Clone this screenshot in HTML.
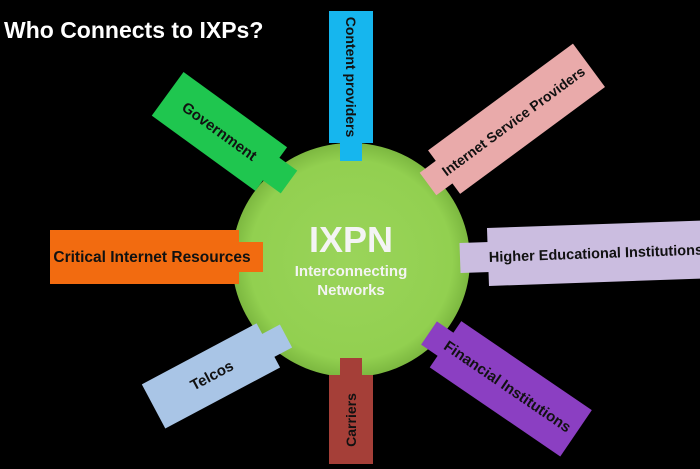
<!DOCTYPE html>
<html><head><style>
body{margin:0;background:#000;width:700px;height:464px;overflow:hidden}
svg text{font-family:"Liberation Sans",sans-serif;font-weight:bold}
</style></head><body>
<svg width="700" height="464" viewBox="0 0 700 464">
<defs>
<radialGradient id="cg" cx="50%" cy="50%" r="50%">
<stop offset="0" stop-color="#9ad45a"/><stop offset="0.85" stop-color="#92d050"/><stop offset="1" stop-color="#7cb840"/>
</radialGradient>
</defs>
<text x="4" y="38" fill="#fff" font-size="23">Who Connects to IXPs?</text>
<ellipse cx="351" cy="260" rx="119" ry="117" fill="url(#cg)"/>
<text x="351" y="252" fill="#f4f4f4" font-size="36" text-anchor="middle">IXPN</text>
<text x="351" y="276" fill="#f4f4f4" font-size="15" text-anchor="middle">Interconnecting</text>
<text x="351" y="295" fill="#f4f4f4" font-size="15" text-anchor="middle">Networks</text>

<g transform="translate(351,161) rotate(90)">
<rect x="-150" y="-22" width="132" height="44" fill="#16b6ee"/>
<rect x="-20" y="-11" width="20" height="22" fill="#16b6ee"/>
<text x="-84" y="5" font-size="14" text-anchor="middle" fill="#111">Content providers</text>
</g>
<g transform="translate(428,184) rotate(143.6)">
<rect x="-200" y="-27" width="180" height="54" fill="#e9aaaa"/>
<rect x="-22" y="-14" width="22" height="28" fill="#e9aaaa"/>
<text transform="rotate(180)" x="106" y="5" font-size="14" text-anchor="middle" fill="#111">Internet Service Providers</text>
</g>
<g transform="translate(460,258) rotate(178)">
<rect x="-260" y="-29" width="232" height="58" fill="#cbbde0"/>
<rect x="-30" y="-15" width="30" height="30" fill="#cbbde0"/>
<text transform="rotate(180)" x="136" y="5" font-size="14.5" text-anchor="middle" fill="#111">Higher Educational Institutions</text>
</g>
<g transform="translate(429,333) rotate(-145.7)">
<rect x="-178" y="-28" width="158" height="56" fill="#8b3fc2"/>
<rect x="-22" y="-14" width="22" height="28" fill="#8b3fc2"/>
<text transform="rotate(180)" x="95" y="5" font-size="15" text-anchor="middle" fill="#111">Financial Institutions</text>
</g>
<g transform="translate(351,358) rotate(-90)">
<rect x="-120" y="-22" width="103" height="44" fill="#a53f38"/>
<rect x="-19" y="-11" width="19" height="22" fill="#a53f38"/>
<text x="-62" y="5" font-size="14" text-anchor="middle" fill="#111">Carriers</text>
</g>
<g transform="translate(286,336) rotate(-28)">
<rect x="-150" y="-25" width="130" height="50" fill="#a9c5e6"/>
<rect x="-22" y="-13" width="22" height="26" fill="#a9c5e6"/>
<text x="-84" y="5" font-size="15" text-anchor="middle" fill="#111">Telcos</text>
</g>
<g transform="translate(263,257)">
<rect x="-213" y="-27" width="189" height="54" fill="#f26b10"/>
<rect x="-26" y="-15" width="26" height="30" fill="#f26b10"/>
<text x="-111" y="5" font-size="15.5" text-anchor="middle" fill="#111">Critical Internet Resources</text>
</g>
<g transform="translate(289,182) rotate(36)">
<rect x="-150" y="-27" width="128" height="54" fill="#1fc64f"/>
<rect x="-24" y="-14" width="24" height="28" fill="#1fc64f"/>
<text x="-86" y="5" font-size="15" text-anchor="middle" fill="#111">Government</text>
</g>
</svg>
</body></html>
